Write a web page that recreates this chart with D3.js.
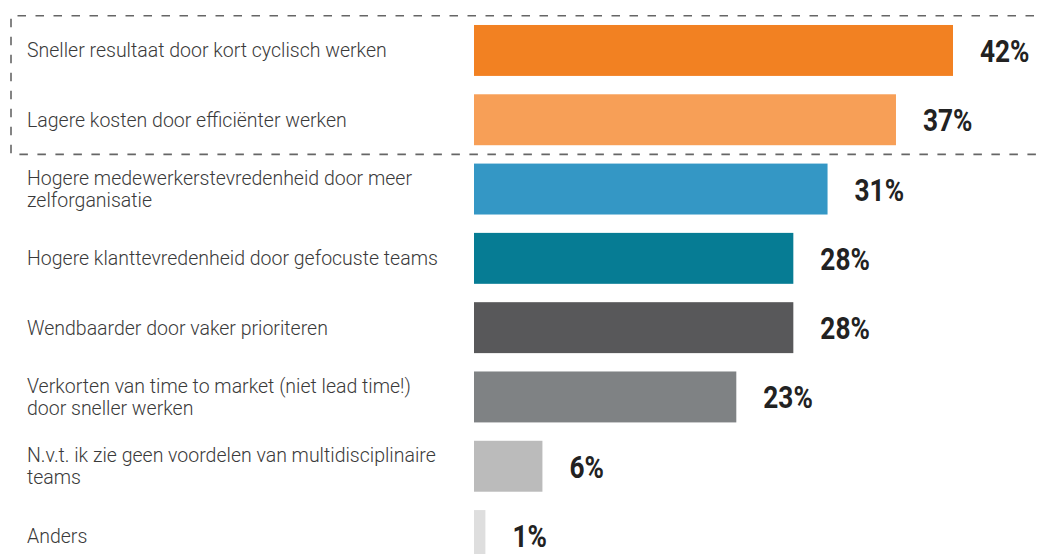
<!DOCTYPE html>
<html>
<head>
<meta charset="utf-8">
<script src="https://cdn.jsdelivr.net/npm/d3@7"></script>
<style>
  body { margin: 0; background: #fff; }
  svg { display: block; }
</style>
</head>
<body>
<div id="chart"></div>
<script>
// data
var categories = [
    "Sneller resultaat door kort cyclisch werken",
    "Lagere kosten door efficiënter werken",
    "Hogere medewerkerstevredenheid door meer\nzelforganisatie",
    "Hogere klanttevredenheid door gefocuste teams",
    "Wendbaarder door vaker prioriteren",
    "Verkorten van time to market (niet lead time!)\ndoor sneller werken",
    "N.v.t. ik zie geen voordelen van multidisciplinaire\nteams",
    "Anders"
];
var values = [42, 37, 31, 28, 28, 23, 6, 1];
var colors = ["#f28122", "#f79f57", "#3497c5", "#067c94", "#58585a", "#7f8284", "#bbbbbb", "#dedede"];
var highlighted = 2; // first two answers sit in the dashed box

var WIDTH = 1042, HEIGHT = 554;

var svg = d3.select("#chart")
    .append("svg")
    .attr("width", WIDTH)
    .attr("height", HEIGHT);

var x = d3.scaleLinear()
    .domain([0, 42])
    .range([474, 953]);

var y = d3.scaleBand()
    .domain(categories)
    .range([15.8, 570.2])
    .paddingInner(0.265)
    .paddingOuter(0.1325);

var gap = y.step() * y.paddingInner() / 2;

// dashed box round the highlighted answers (starts at the top-left corner)
var boxTop = y(categories[0]) - gap,
    boxBottom = y(categories[highlighted - 1]) + y.bandwidth() + gap;
svg.append("path")
    .attr("d", "M" + (WIDTH + 10) + "," + boxTop + "H11V" + boxBottom + "H" + (WIDTH + 10))
    .attr("fill", "none")
    .attr("stroke", "#666")
    .attr("stroke-width", 1.6)
    .attr("stroke-dasharray", "8.5,9.5");

// bars
svg.append("g")
    .selectAll("rect")
    .data(values)
    .enter()
    .append("rect")
    .attr("x", x(0))
    .attr("y", function(d, i) { return y(categories[i]); })
    .attr("width", function(d) { return x(d) - x(0); })
    .attr("height", y.bandwidth())
    .attr("fill", function(d, i) { return colors[i]; });

// category labels (one or two lines)
var lineH = 22;
svg.append("g")
    .selectAll("text")
    .data(categories)
    .enter()
    .append("text")
    .attr("font-family", "Roboto, 'Open Sans', sans-serif")
    .attr("font-weight", 300)
    .attr("font-size", "19.5px")
    .attr("fill", "#3a3a3a")
    .each(function(d) {
        var lines = d.split("\n");
        var cy = y(d) + y.bandwidth() / 2;
        var first = cy - (lines.length - 1) * lineH / 2 + 7;
        d3.select(this).selectAll("tspan")
            .data(lines)
            .enter()
            .append("tspan")
            .attr("x", 27)
            .attr("y", function(l, j) { return first + j * lineH; })
            .text(function(l) { return l; });
    });

// value labels, squeezed to look like a condensed bold face
svg.append("g")
    .selectAll("text")
    .data(values)
    .enter()
    .append("text")
    .attr("transform", function(d, i) {
        return "translate(" + (x(d) + 27) + "," + (y(categories[i]) + y.bandwidth() / 2 + 11.5) + ") scale(0.82,1)";
    })
    .attr("font-family", "Roboto, sans-serif")
    .attr("font-weight", "bold")
    .attr("font-size", "32px")
    .attr("fill", "#222")
    .text(function(d) { return d + "%"; });
</script>
</body>
</html>
